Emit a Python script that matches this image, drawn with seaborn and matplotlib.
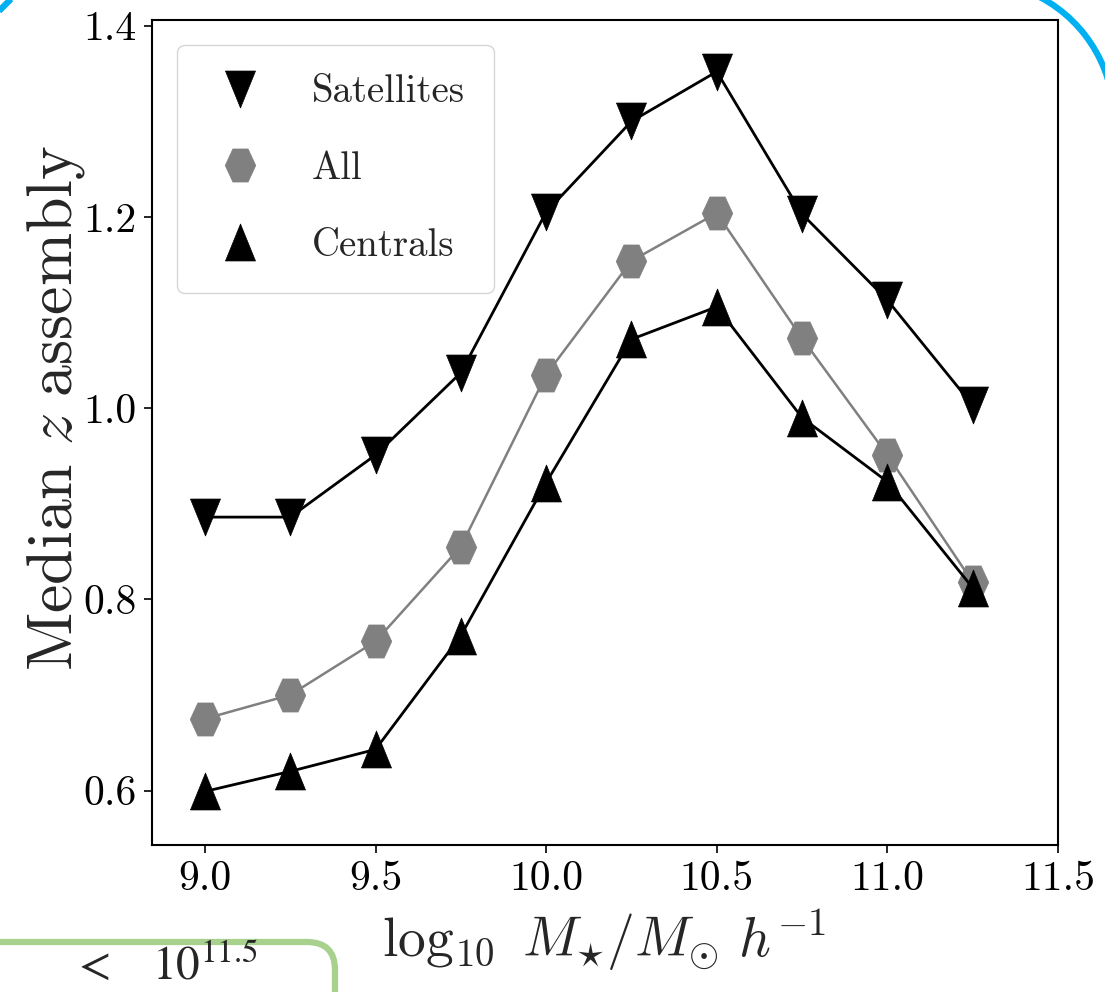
import numpy as np
import pandas as pd
import matplotlib
matplotlib.use("Agg")
import matplotlib.pyplot as plt
import seaborn as sns
from matplotlib.lines import Line2D
from matplotlib.patches import Arc, FancyBboxPatch

# Median assembly redshift per stellar-mass bin
stellar_mass = [9.0, 9.25, 9.5, 9.75, 10.0, 10.25, 10.5, 10.75, 11.0, 11.25]
z_satellites = [0.886, 0.886, 0.951, 1.037, 1.205, 1.300, 1.352, 1.203, 1.113, 1.003]
z_all = [0.675, 0.700, 0.756, 0.855, 1.035, 1.154, 1.204, 1.073, 0.951, 0.818]
z_centrals = [0.599, 0.620, 0.643, 0.762, 0.922, 1.072, 1.106, 0.990, 0.923, 0.812]
series_names = ["Satellites", "All", "Centrals"]
x_ticks = [9.0, 9.5, 10.0, 10.5, 11.0, 11.5]
y_ticks = [0.6, 0.8, 1.0, 1.2, 1.4]

W, H, DPI = 1105, 992, 100

sns.set_theme(style="ticks")
plt.rcParams.update({
    "font.family": ["cmr10", "DejaVu Serif"],
    "mathtext.fontset": "cm",
    "axes.formatter.use_mathtext": True,
    "axes.edgecolor": "black",
    "axes.linewidth": 1.5,
    "xtick.color": "black",
    "ytick.color": "black",
    "xtick.major.size": 6,
    "ytick.major.size": 6,
    "xtick.major.width": 1.2,
    "ytick.major.width": 1.2,
    "xtick.major.pad": 5,
    "ytick.major.pad": 5,
})

df = pd.DataFrame({
    "mass": stellar_mass * 3,
    "z": z_satellites + z_all + z_centrals,
    "group": np.repeat(series_names, len(stellar_mass)),
})

# slightly tall marker shapes
tri_down = [(-1, 1.23), (1, 1.23), (0, -1.23), (-1, 1.23)]
tri_up = [(-1, -1.23), (1, -1.23), (0, 1.23), (-1, -1.23)]
ang = np.deg2rad(np.arange(0, 361, 60))
hexagon = list(zip(np.cos(ang), 1.25 * np.sin(ang)))

styles = {
    "Satellites": dict(color="black", marker=tri_down, ms=26.6, lw=2.0),
    "All": dict(color="#808080", marker=hexagon, ms=23.8, lw=1.8),
    "Centrals": dict(color="black", marker=tri_up, ms=26.6, lw=2.0),
}

fig = plt.figure(figsize=(W / DPI, H / DPI), dpi=DPI)
ax = fig.add_axes([152 / W, 1 - 845 / H, (1058 - 152) / W, (845 - 20) / H])

for name in series_names:
    st = styles[name]
    sns.lineplot(data=df[df["group"] == name], x="mass", y="z", ax=ax,
                 color=st["color"], lw=st["lw"], marker=st["marker"],
                 markersize=st["ms"], markeredgewidth=0.5,
                 markeredgecolor=st["color"], markerfacecolor=st["color"],
                 legend=False)

ax.set_xlim(8.845, 11.5)
ax.set_ylim(0.543, 1.406)
ax.set_xticks(x_ticks)
ax.set_xticklabels([f"{v:.1f}" for v in x_ticks], fontsize=30)
ax.set_yticks(y_ticks)
ax.set_yticklabels([f"{v:.1f}" for v in y_ticks], fontsize=30)
ax.tick_params(top=False, right=False, direction="out")

ax.set_xlabel(r"$\log_{10}\ M_{\star}/M_{\odot}\ h^{-1}$", fontsize=40)
ax.set_ylabel(r"$\mathrm{Median}\ z\ \mathrm{assembly}$", fontsize=46)
ax.xaxis.set_label_coords(0.4989, -0.076)
ax.yaxis.set_label_coords(-0.0717, 0.53)

handles = [Line2D([], [], ls="none", marker=styles[n]["marker"],
                  color=styles[n]["color"], ms=styles[n]["ms"],
                  markeredgewidth=0.5) for n in series_names]
ax.legend(handles, series_names, loc="upper left", fontsize=28,
          frameon=True, fancybox=True, edgecolor="0.8", framealpha=0.8,
          borderaxespad=0.65, borderpad=0.75, handlelength=1.7,
          handletextpad=1.0, labelspacing=1.05)

# page decorations around the figure
deco = fig.add_axes([0, 0, 1, 1])
deco.set_xlim(0, W)
deco.set_ylim(H, 0)
deco.axis("off")
deco.patch.set_visible(False)
deco.add_patch(Arc((975, 120), 278, 278, theta1=-70, theta2=-5,
                   color="#00b0f0", lw=4.5))
deco.plot([-4, 14], [14, -4], color="#00b0f0", lw=4.5, solid_capstyle="butt")
deco.add_patch(FancyBboxPatch((-60, 942), 395, 120,
                              boxstyle="round,pad=0,rounding_size=28",
                              ec="#a9d18e", fc="none", lw=4.5))
deco.text(72, 979, r"$<\quad10^{11.5}$", fontsize=34, math_fontfamily="stix",
          va="baseline", ha="left")

fig.savefig("out.png", dpi=DPI)
